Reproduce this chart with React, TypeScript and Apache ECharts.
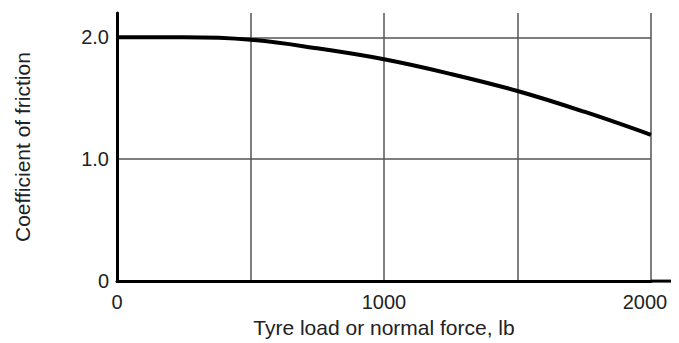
import React, { useEffect, useRef } from "react";
import * as echarts from "echarts";

const loads = [0, 250, 500, 750, 1000, 1250, 1500, 1750, 2000];
const friction = [2.0, 2.0, 1.98, 1.91, 1.82, 1.7, 1.56, 1.39, 1.2];
const xLabelValues = [0, 1000, 2000];
const yLabelValues = [0, 1, 2];
const xTitle = "Tyre load or normal force, lb";
const yTitle = "Coefficient of friction";

export default function App() {
  const ref = useRef<HTMLDivElement>(null);
  useEffect(() => {
    if (!ref.current) return;
    const chart = echarts.init(ref.current, null, { renderer: "svg" });
    const font = "'Liberation Sans', Arial, sans-serif";
    chart.setOption({
      animation: false,
      backgroundColor: "#ffffff",
      grid: { left: 117, top: 13, width: 541, height: 270, containLabel: false },
      xAxis: {
        type: "value",
        min: 0,
        max: 2000,
        interval: 500,
        name: xTitle,
        nameLocation: "middle",
        nameGap: 31,
        nameTextStyle: { fontFamily: font, fontSize: 21, color: "#222" },
        axisLine: {
          show: true,
          symbol: ["none", "rect"],
          symbolSize: [3, 20],
          symbolOffset: [0, 10],
          lineStyle: { color: "#000", width: 3 },
        },
        axisTick: { show: false },
        axisLabel: {
          margin: 11,
          fontFamily: font,
          fontSize: 20,
          color: "#222",
          showMaxLabel: true,
          formatter: (v: number) =>
            xLabelValues.includes(v) ? (v === 2000 ? "{n|2000}{s| }" : String(v)) : "",
          rich: {
            n: { fontFamily: font, fontSize: 20, color: "#222" },
            s: { fontFamily: font, fontSize: 20, width: 12 },
          },
        },
        splitLine: {
          show: true,
          showMinLine: false,
          showMaxLine: true,
          lineStyle: { color: "#555", width: 1.5 },
        },
      },
      yAxis: {
        type: "value",
        min: 0,
        max: 2.2,
        interval: 1,
        name: yTitle,
        nameLocation: "middle",
        nameGap: 84,
        nameRotate: 90,
        nameTextStyle: { fontFamily: font, fontSize: 21, color: "#222" },
        axisLine: { show: true, lineStyle: { color: "#000", width: 3 } },
        axisTick: { show: false },
        axisLabel: {
          margin: 8,
          fontFamily: font,
          fontSize: 20,
          color: "#222",
          formatter: (v: number) =>
            yLabelValues.includes(v) ? (v === 0 ? "0" : v.toFixed(1)) : "",
        },
        splitLine: {
          show: true,
          showMinLine: false,
          showMaxLine: false,
          lineStyle: { color: "#555", width: 1.5 },
        },
      },
      series: [
        {
          type: "line",
          data: loads.map((x, i) => [x, friction[i]]),
          smooth: 0.4,
          symbol: "none",
          lineStyle: { color: "#000", width: 4 },
        },
      ],
    });
    return () => chart.dispose();
  }, []);
  return <div ref={ref} style={{ width: 679, height: 343, marginLeft: -8, marginTop: -8 }} />;
}
